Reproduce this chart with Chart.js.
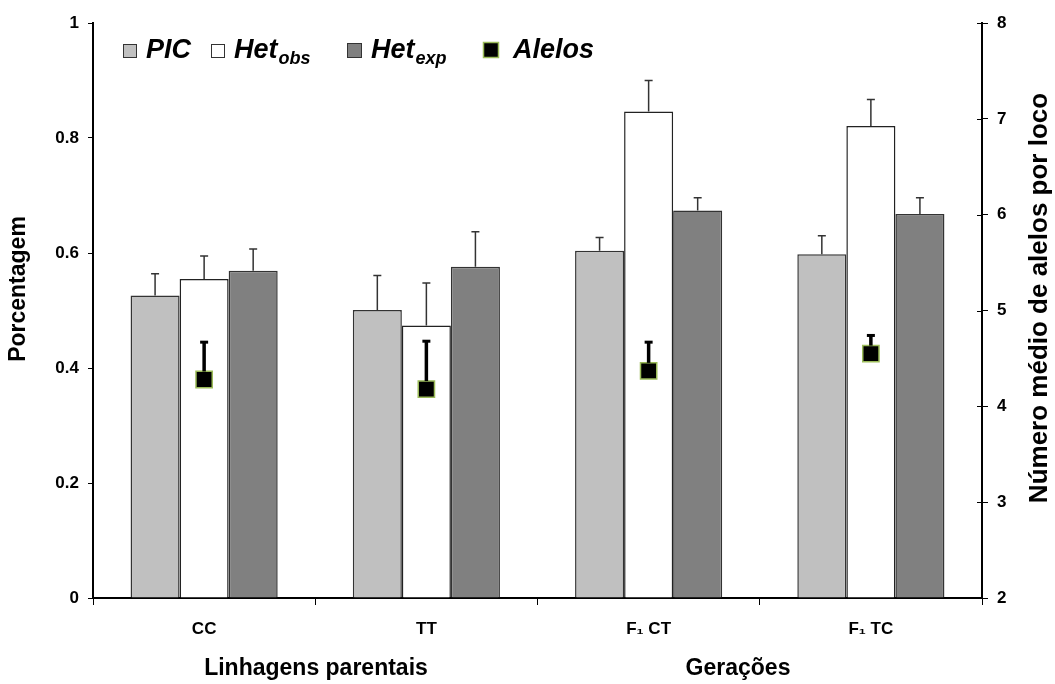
<!DOCTYPE html>
<html lang="pt">
<head>
    <meta charset="UTF-8">
    <title>PIC, heterozigosidade e alelos</title>
    <script src="https://cdn.jsdelivr.net/npm/chart.js"></script>
    <style>
        body { margin: 0; background: #fff; }
        #wrap { width: 1055px; height: 684px; }
    </style>
</head>
<body>
    <div id="wrap">
        <canvas id="grafico" width="1055" height="684"></canvas>
    </div>

    <script>
        // dados
        const categorias = ['CC', 'TT', 'F₁ CT', 'F₁ TC'];
        const pic = [0.526, 0.501, 0.604, 0.598];
        const picErro = [0.038, 0.060, 0.023, 0.032];
        const hetObs = [0.555, 0.474, 0.846, 0.821];
        const hetObsErro = [0.040, 0.074, 0.054, 0.046];
        const hetExp = [0.569, 0.576, 0.674, 0.668];
        const hetExpErro = [0.038, 0.061, 0.022, 0.028];
        const alelos = [4.28, 4.18, 4.37, 4.55];
        const alelosErro = [0.40, 0.51, 0.31, 0.20];
        const ticksEsq = [0, 0.2, 0.4, 0.6, 0.8, 1];
        const ticksDir = [2, 3, 4, 5, 6, 7, 8];

        const fonte = '"Liberation Sans", Arial, sans-serif';
        Chart.defaults.font.family = fonte;
        Chart.defaults.color = '#000';

        // barras de erro (só para cima)
        const errosPlugin = {
            id: 'erros',
            afterDatasetsDraw(chart) {
                const ctx = chart.ctx;
                const y = chart.scales.y;
                const y1 = chart.scales.y1;
                const series = [[pic, picErro], [hetObs, hetObsErro], [hetExp, hetExpErro]];
                ctx.save();
                series.forEach((s, k) => {
                    const meta = chart.getDatasetMeta(k + 1);
                    meta.data.forEach((bar, i) => {
                        const yTopo = y.getPixelForValue(s[0][i]);
                        const yErro = y.getPixelForValue(s[0][i] + s[1][i]);
                        ctx.strokeStyle = '#333';
                        ctx.lineWidth = 1.5;
                        ctx.beginPath();
                        ctx.moveTo(bar.x, yTopo);
                        ctx.lineTo(bar.x, yErro);
                        ctx.moveTo(bar.x - 4, yErro);
                        ctx.lineTo(bar.x + 4, yErro);
                        ctx.stroke();
                    });
                });
                const metaA = chart.getDatasetMeta(0);
                metaA.data.forEach((pt, i) => {
                    const yErro = y1.getPixelForValue(alelos[i] + alelosErro[i]);
                    ctx.strokeStyle = '#000';
                    ctx.lineWidth = 3.5;
                    ctx.beginPath();
                    ctx.moveTo(pt.x, pt.y - 8);
                    ctx.lineTo(pt.x, yErro);
                    ctx.stroke();
                    ctx.lineWidth = 3;
                    ctx.beginPath();
                    ctx.moveTo(pt.x - 4, yErro + 1);
                    ctx.lineTo(pt.x + 4, yErro + 1);
                    ctx.stroke();
                });
                ctx.restore();
            }
        };

        // legenda, títulos dos eixos e grupos
        const textosPlugin = {
            id: 'textos',
            afterDraw(chart) {
                const ctx = chart.ctx;
                ctx.save();

                // marcas internas do eixo direito
                const y1 = chart.scales.y1;
                const xDir = chart.chartArea.right;
                ctx.strokeStyle = '#000';
                ctx.lineWidth = 1;
                ticksDir.forEach(v => {
                    const py = Math.round(y1.getPixelForValue(v)) + 0.5;
                    ctx.beginPath();
                    ctx.moveTo(xDir - 5, py);
                    ctx.lineTo(xDir, py);
                    ctx.stroke();
                });

                // legenda
                const base = 58;
                const itens = [
                    { qx: 123, tx: 146, cor: '#c0c0c0', borda: '#333', lw: 1, q: 14, txt: 'PIC', sub: '' },
                    { qx: 211, tx: 234, cor: '#ffffff', borda: '#333', lw: 1, q: 14, txt: 'Het', sub: 'obs' },
                    { qx: 347, tx: 371, cor: '#808080', borda: '#333', lw: 1, q: 15, txt: 'Het', sub: 'exp' },
                    { qx: 483, tx: 513, cor: '#000000', borda: '#9bbb59', lw: 1.5, q: 16, txt: 'Alelos', sub: '' }
                ];
                ctx.textBaseline = 'alphabetic';
                ctx.textAlign = 'left';
                itens.forEach(it => {
                    ctx.fillStyle = it.cor;
                    ctx.fillRect(it.qx, base - it.q, it.q, it.q);
                    ctx.strokeStyle = it.borda;
                    ctx.lineWidth = it.lw;
                    ctx.strokeRect(it.qx + 0.5, base - it.q + 0.5, it.q - 1, it.q - 1);
                    ctx.fillStyle = '#000';
                    ctx.font = 'italic bold 27px ' + fonte;
                    ctx.fillText(it.txt, it.tx, base);
                    if (it.sub) {
                        const w = ctx.measureText(it.txt).width;
                        ctx.font = 'italic bold 18px ' + fonte;
                        ctx.fillText(it.sub, it.tx + w + 1, base + 6);
                    }
                });

                // títulos dos eixos
                ctx.textAlign = 'center';
                ctx.textBaseline = 'middle';
                ctx.font = 'bold 23px ' + fonte;
                ctx.save();
                ctx.translate(19, 289);
                ctx.rotate(-Math.PI / 2);
                ctx.fillText('Porcentagem', 0, 0);
                ctx.restore();
                ctx.font = 'bold 26px ' + fonte;
                ctx.save();
                ctx.translate(1040, 298);
                ctx.rotate(-Math.PI / 2);
                ctx.fillText('Número médio de alelos por loco', 0, 0);
                ctx.restore();

                // grupos
                ctx.font = 'bold 23px ' + fonte;
                ctx.fillText('Linhagens parentais', 316, 669);
                ctx.fillText('Gerações', 738, 669);
                ctx.restore();
            }
        };

        new Chart(document.getElementById('grafico'), {
            type: 'bar',
            data: {
                labels: categorias,
                datasets: [{
                    type: 'line',
                    label: 'Alelos',
                    data: alelos,
                    yAxisID: 'y1',
                    showLine: false,
                    pointStyle: 'rect',
                    pointRadius: 11.5,
                    pointBackgroundColor: '#000',
                    pointBorderColor: '#9bbb59',
                    pointBorderWidth: 1.5,
                    order: 0
                }, {
                    label: 'PIC',
                    data: pic,
                    backgroundColor: '#c0c0c0',
                    borderColor: '#333',
                    borderWidth: 1.5,
                    yAxisID: 'y',
                    order: 1
                }, {
                    label: 'Het obs',
                    data: hetObs,
                    backgroundColor: '#ffffff',
                    borderColor: '#222',
                    borderWidth: 1.5,
                    yAxisID: 'y',
                    order: 1
                }, {
                    label: 'Het exp',
                    data: hetExp,
                    backgroundColor: '#808080',
                    borderColor: '#333',
                    borderWidth: 1.5,
                    yAxisID: 'y',
                    order: 1
                }]
            },
            options: {
                responsive: false,
                animation: false,
                layout: { padding: { top: 23, left: 0, right: 0, bottom: 0 } },
                categoryPercentage: 0.662,
                barPercentage: 1,
                plugins: {
                    legend: { display: false },
                    tooltip: { enabled: false }
                },
                scales: {
                    x: {
                        grid: { display: true, drawOnChartArea: false, drawTicks: true, tickLength: 7, color: '#000', lineWidth: 1 },
                        border: { display: true, color: '#000', width: 2 },
                        ticks: { font: { size: 17, weight: 'bold' }, padding: 14 },
                        afterFit(s) { s.height = 86; }
                    },
                    y: {
                        position: 'left',
                        min: 0,
                        max: 1,
                        afterBuildTicks(s) { s.ticks = ticksEsq.map(v => ({ value: v })); },
                        grid: { display: true, drawOnChartArea: false, tickLength: 5, color: '#000', lineWidth: 1 },
                        border: { display: true, color: '#000', width: 2 },
                        ticks: { font: { size: 17, weight: 'bold' }, padding: 9, callback: v => String(v) },
                        afterFit(s) { s.width = 93; }
                    },
                    y1: {
                        position: 'right',
                        min: 2,
                        max: 8,
                        afterBuildTicks(s) { s.ticks = ticksDir.map(v => ({ value: v })); },
                        grid: { display: true, drawOnChartArea: false, tickLength: 6, color: '#000', lineWidth: 1 },
                        border: { display: true, color: '#000', width: 2 },
                        ticks: { font: { size: 17, weight: 'bold' }, padding: 9 },
                        afterFit(s) { s.width = 73; }
                    }
                }
            },
            plugins: [errosPlugin, textosPlugin]
        });
    </script>
</body>
</html>
